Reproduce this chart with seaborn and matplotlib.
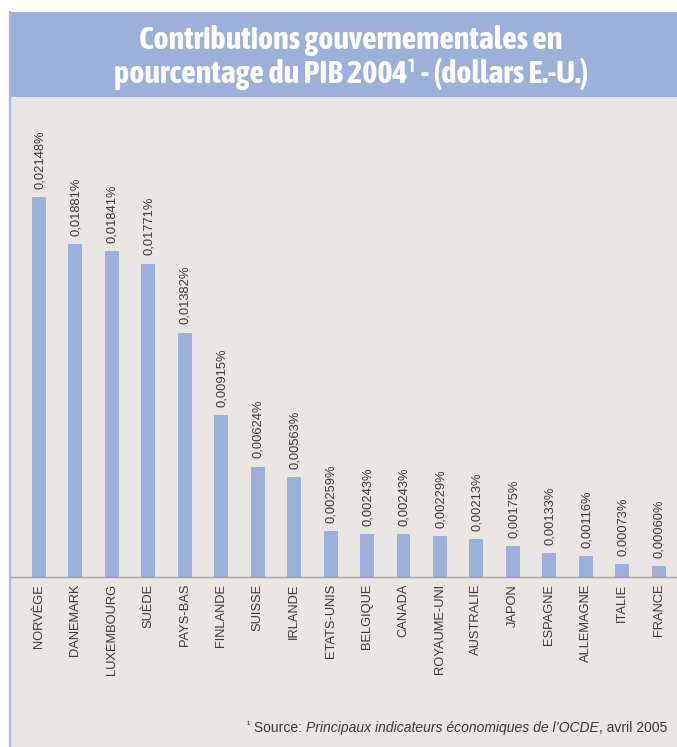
import matplotlib
matplotlib.use("Agg")
import matplotlib.pyplot as plt
from matplotlib.patches import Rectangle
from matplotlib.lines import Line2D
from matplotlib import font_manager as fm
import seaborn as sns
import pandas as pd

countries = ["NORVÈGE", "DANEMARK", "LUXEMBOURG", "SUÈDE", "PAYS-BAS", "FINLANDE",
             "SUISSE", "IRLANDE", "ETATS-UNIS", "BELGIQUE", "CANADA", "ROYAUME-UNI",
             "AUSTRALIE", "JAPON", "ESPAGNE", "ALLEMAGNE", "ITALIE", "FRANCE"]
values = [0.02148, 0.01881, 0.01841, 0.01771, 0.01382, 0.00915,
          0.00624, 0.00563, 0.00259, 0.00243, 0.00243, 0.00229,
          0.00213, 0.00175, 0.00133, 0.00116, 0.00073, 0.00060]
title_lines = ["Contributions gouvernementales en",
               "pourcentage du PIB 2004¹ - (dollars E.-U.)"]
foot_parts = [("¹", "normal"), (" Source: ", "normal"),
              ("Principaux indicateurs économiques de l’OCDE", "italic"),
              (", avril 2005", "normal")]

sns.set_theme(style="white")
plt.rcParams["font.family"] = ["Liberation Sans", "DejaVu Sans"]

# pick a condensed bold face for the title if one is installed
cond_prop = None
for f in fm.fontManager.ttflist:
    n = f.name.lower()
    if ("narrow" in n or "condensed" in n) and f.weight in ("bold", 700, "heavy", 800):
        if "semi" in n or "extra" in n:
            continue
        cond_prop = fm.FontProperties(fname=f.fname)
        break
if cond_prop is None:
    for f in fm.fontManager.ttflist:
        n = f.name.lower()
        if ("narrow" in n or "condensed" in n) and "semi" not in n and "extra" not in n:
            cond_prop = fm.FontProperties(fname=f.fname, weight="bold")
            break
if cond_prop is None:
    cond_prop = fm.FontProperties(family="Liberation Sans", weight="bold")

W, H = 677, 747
BG = "#E9E6E3"
BLUE = "#9DB0DA"
TXT = "#3A3A3A"

fig = plt.figure(figsize=(W / 100, H / 100), dpi=100, facecolor="white")

fig.add_artist(Rectangle((9 / W, 0), 1 - 9 / W, (H - 12) / H, transform=fig.transFigure,
                         facecolor=BG, edgecolor="none", zorder=0))
fig.add_artist(Rectangle((9 / W, (H - 97) / H), 1 - 9 / W, 85 / H, transform=fig.transFigure,
                         facecolor=BLUE, edgecolor="none", zorder=1))
fig.add_artist(Line2D([9.8 / W, 9.8 / W], [0, (H - 12) / H], transform=fig.transFigure,
                      color="#A9B9E0", lw=1.6, zorder=2))

fig.canvas.draw()
r = fig.canvas.get_renderer()
for k, line in enumerate(title_lines):
    t = fig.text(351 / W, (H - (41 + 33 * k)) / H, line, ha="center", va="center",
                 color="white", fontproperties=cond_prop, zorder=3)
    t.set_fontsize(20)
    if k == 0:
        w = t.get_window_extent(renderer=r).width
        size = 20 * 423 / w
    t.set_fontsize(size)

df = pd.DataFrame({"pays": countries, "valeur": values})

ax = fig.add_axes([10 / W, (H - 577) / H, 667 / W, (577 - 110) / H])
ax.patch.set_alpha(0)
sns.barplot(data=df, x="pays", y="valeur", order=countries, color=BLUE,
            saturation=1, width=0.383, ax=ax, errorbar=None, linewidth=0,
            edgecolor="none")
ax.set_xlim(-0.79, 17.5)
ax.set_ylim(0, 467 / 17690)
for s in ["top", "left", "right"]:
    ax.spines[s].set_visible(False)
ax.spines["bottom"].set_color("#A7A19C")
ax.spines["bottom"].set_linewidth(1.0)
ax.set_yticks([])
ax.set_xlabel("")
ax.set_ylabel("")
ax.tick_params(axis="x", length=0, pad=5, labelsize=9.3, labelcolor=TXT)
ax.set_xticks(range(len(countries)))
ax.set_xticklabels(countries, rotation=90, va="top", ha="center")

for i, v in enumerate(values):
    lab = f"{v:.5f}".replace(".", ",") + "%"
    ax.annotate(lab, (i, v), xytext=(0.5, 6), textcoords="offset points",
                rotation=90, ha="center", va="bottom", fontsize=9.3, color=TXT)

fig.canvas.draw()
r = fig.canvas.get_renderer()
x_right = 667
y = (H - 728) / H
for txt, style in reversed(foot_parts):
    sup = txt == "¹"
    t = fig.text(x_right / W, y + (3 / H if sup else 0), txt, ha="right", va="center",
                 fontsize=7 if sup else 10, style=style, color=TXT)
    x_right = t.get_window_extent(renderer=r).x0

fig.savefig("out.png", dpi=100, facecolor="white")
